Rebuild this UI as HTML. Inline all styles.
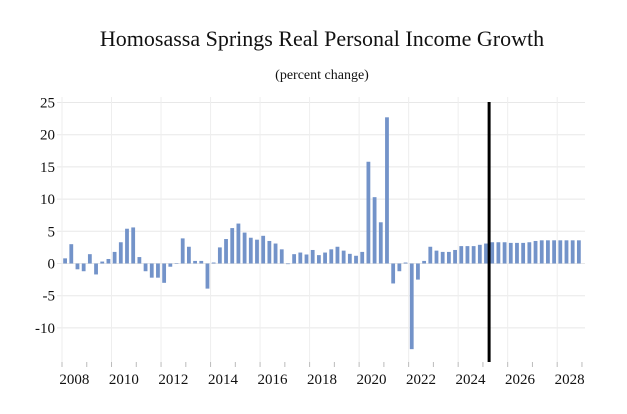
<!DOCTYPE html>
<html><head><meta charset="utf-8"><style>
body{margin:0;background:#fff;}
svg{display:block;font-family:"Liberation Serif",serif;}
</style></head><body>
<svg id="chart" width="627" height="414" viewBox="0 0 627 414">
<text x="322" y="46" text-anchor="middle" font-size="22" fill="#111">Homosassa Springs Real Personal Income Growth</text>
<text x="322" y="79" text-anchor="middle" font-size="14" fill="#111">(percent change)</text>
<g id="grid"></g><g id="bars"></g><g id="axes"></g>
</svg>
<script>
const startYear = 2008;
const values = [0.8,3.0,-0.9,-1.2,1.45,-1.7,0.3,0.7,1.8,3.3,5.4,5.6,1.0,-1.2,-2.2,-2.2,-3.0,-0.5,0,3.9,2.6,0.4,0.4,-3.9,0.15,2.5,3.8,5.5,6.2,4.8,4.0,3.7,4.3,3.5,3.1,2.2,-0.1,1.45,1.7,1.4,2.1,1.3,1.7,2.2,2.6,2.0,1.5,1.2,1.8,15.8,10.3,6.4,22.7,-3.1,-1.2,0.15,-13.3,-2.5,0.4,2.6,2.0,1.8,1.8,2.1,2.7,2.7,2.7,2.9,3.1,3.3,3.3,3.3,3.2,3.2,3.2,3.3,3.5,3.6,3.6,3.6,3.6,3.6,3.6,3.6];
const yTicks = [25,20,15,10,5,0,-5,-10];
const xLabels = [2008,2010,2012,2014,2016,2018,2020,2022,2024,2026,2028];
const forecastStart = 2025.25;

const NS="http://www.w3.org/2000/svg";
const x0=62, pxYear=24.76, y0=263.5, pxUnit=6.44, plotTop=97, plotBottom=362, plotRight=585;
const xs=t=>x0+(t-startYear)*pxYear;
const ys=v=>y0-v*pxUnit;
function mk(tag,attrs,parent){const e=document.createElementNS(NS,tag);for(const k in attrs)e.setAttribute(k,attrs[k]);parent.appendChild(e);return e;}
const grid=document.getElementById('grid'),bars=document.getElementById('bars'),axes=document.getElementById('axes');
yTicks.forEach(v=>{
  const l=mk('line',{x1:57,x2:plotRight,y1:ys(v),y2:ys(v),stroke:'#e8e8e8','stroke-width':1},grid);
  
  
  const t=mk('text',{x:55,y:ys(v)+5,'text-anchor':'end','font-size':15,fill:'#111'},axes);
  t.textContent=v;
  
  
});
for(let y=startYear;y<=2029;y++){
  if(y%2===0){
    const g=mk('line',{x1:xs(y),x2:xs(y),y1:plotTop,y2:plotBottom,stroke:'#eeeeee','stroke-width':1},grid);
    
    
  }
  const tk=mk('line',{x1:xs(y),x2:xs(y),y1:362,y2:367,stroke:'#bbb','stroke-width':1},axes);
  
  
}
xLabels.forEach(y=>{
  const t=mk('text',{x:xs(y+0.5),y:384,'text-anchor':'middle','font-size':15,fill:'#111'},axes);
  t.textContent=y;
  
  
});
values.forEach((v,i)=>{
  const cx=xs(startYear+(i+0.5)/4);
  const top=Math.min(ys(v),ys(0)),h=Math.abs(ys(v)-ys(0));
  const r=mk('rect',{x:cx-1.9,y:top,width:3.8,height:Math.max(h,0.5),fill:'#7393c9'},bars);
  
  
});
const fl=mk('line',{x1:xs(forecastStart),x2:xs(forecastStart),y1:102,y2:362,stroke:'#000','stroke-width':3},axes);


</script>
</body></html>
